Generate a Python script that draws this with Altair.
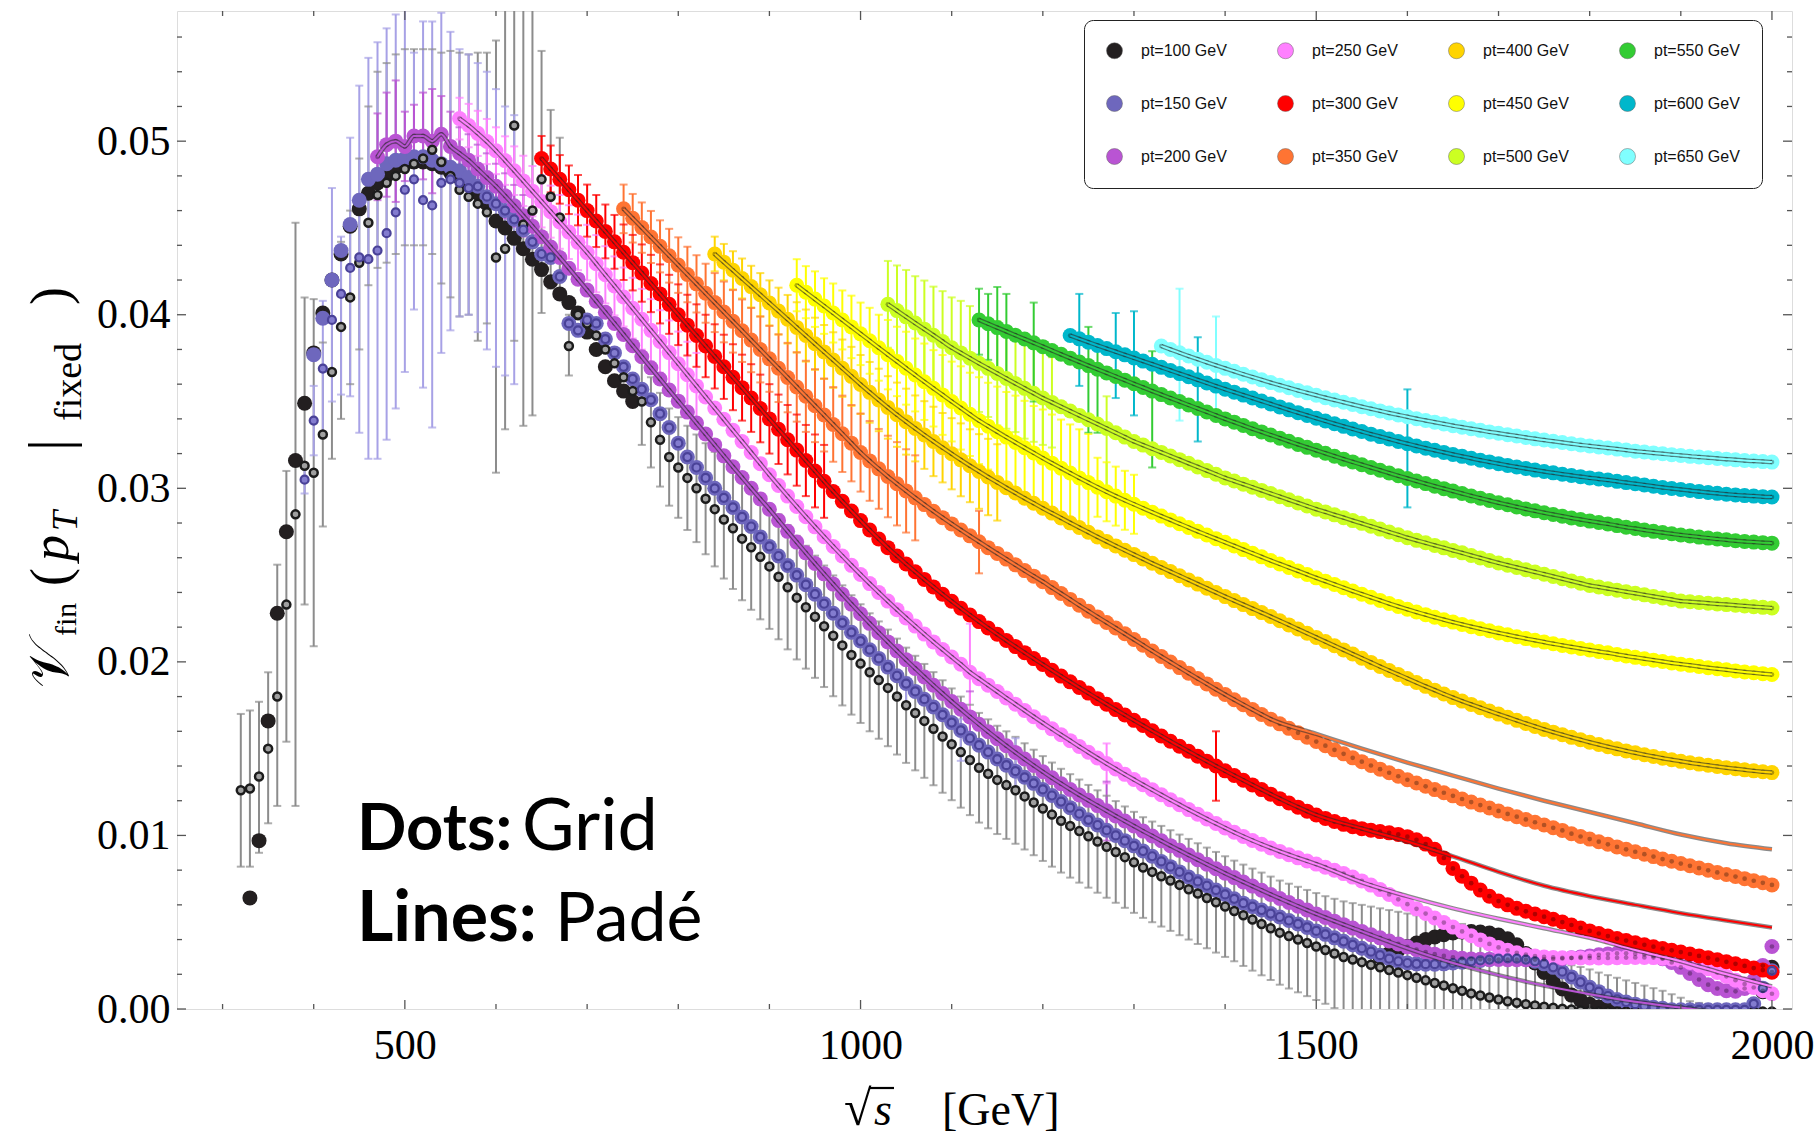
import altair as alt
import pandas as pd

# ---------------------------------------------------------------------------
# Layout of the plot frame (pixels) and axis ranges
# ---------------------------------------------------------------------------
W, H = 1615, 998
X_DOMAIN = [250, 2022]
Y_DOMAIN = [0, 0.0575]
U = 1e-5  # every tabulated value below is given in units of 1e-5

LABELS = ["pt=100 GeV", "pt=150 GeV", "pt=200 GeV", "pt=250 GeV", "pt=300 GeV", "pt=350 GeV",
          "pt=400 GeV", "pt=450 GeV", "pt=500 GeV", "pt=550 GeV", "pt=600 GeV", "pt=650 GeV"]
COLORS = ["#231f20", "#6e67bd", "#b954d3", "#ff80ff", "#ff0000", "#ff7433",
          "#ffd400", "#ffff00", "#ccff22", "#33cc33", "#00b7cb", "#80ffff"]
BAR_COLORS = ["#8c8c8c", "#a7a1e6"] + COLORS[2:]

# ---------------------------------------------------------------------------
# Grid points: (first sqrt(s) in GeV, values every 10 GeV)
# ---------------------------------------------------------------------------
PT100_BIG_EARLY = [640, 970, 1660, 2280, 2750, 3160, 3490, 3780, 4010, 4200,
                   4350, 4510, 4610, 4700, 4760, 4800, 4850, 4870, 4880, 4880,
                   4870, 4850, 4820, 4790, 4750, 4700, 4640, 4540, 4500, 4440,
                   4380, 4320, 4260, 4190, 4120, 4070, 4010, 3900, 3800, 3700,
                   3620, 3560, 3500]
PT100_BIG_TAIL = [300, 320, 340, 360, 380, 400, 415, 428, 438, 444,
                  446, 444, 438, 426, 405, 370, 320, 265, 210, 160,
                  115, 80, 50, 28, 12, 0, -10, -10, -10, -10,
                  -10, -10, -10, -10, -10, -10, -10, -10, -10, -10,
                  -10, -10, 100, 240]
PT100_RING_EARLY = [1260, 1270, 1340, 1500, 1800, 2330, 2850, 3130, 3090, 3310,
                    3670, 3930, 4100, 4300, 4530, 4690, 4760, 4800, 4840, 4870,
                    4900, 4950, 4880, 4800, 4720, 4680, 4640, 4590, 4330, 4380,
                    5090, 4520, 4600, 4780, 4680, 4560, 3820, 4000, 3950, 3880,
                    3800, 3720, 3640, 3560]
PT100_RING_MAIN = [3500, 3380, 3280, 3180, 3120, 3060, 3000, 2940, 2880, 2820,
                   2770, 2710, 2660, 2605, 2550, 2490, 2430, 2370, 2315, 2260,
                   2205, 2150, 2095, 2040, 1990, 1940, 1895, 1850, 1800, 1750,
                   1705, 1660, 1615, 1570, 1525, 1480, 1435, 1390, 1355, 1320,
                   1290, 1260, 1225, 1190, 1155, 1120, 1085, 1055, 1025, 995,
                   965, 935, 905, 875, 845, 815, 790, 765, 740, 715,
                   690, 665, 640, 615, 590, 565, 540, 515, 490, 465,
                   440, 420, 400, 380, 360, 340, 320, 300, 285, 270,
                   255, 240, 225, 210, 195, 180, 165, 150, 135, 120,
                   105, 90, 78, 66, 55, 45, 36, 28, 20, 13,
                   7, 2, -3, -8, -12, -15, -15, -15, -15, -15,
                   -15, -15, -15, -15, -15, -15, -15, -15, -15, -15,
                   -15, -15, -15, -15, -15]
PT150_BIG = [3770, 3980, 4200, 4370, 4520, 4660, 4780, 4810, 4870, 4890,
             4900, 4910, 4910, 4890, 4870, 4850, 4830, 4790, 4740, 4680,
             4640, 4600, 4550, 4490, 4420, 4350, 4330, 4220, 3950, 3910, 3970,
             3950, 3860, 3780, 3700, 3630, 3570, 3510, 3430, 3350, 3260,
             3180, 3120, 3060, 3000, 2945, 2890, 2835, 2780, 2720, 2665,
             2610, 2555, 2500, 2445, 2390, 2335, 2280, 2225, 2170, 2120,
             2070, 2020, 1970, 1920, 1875, 1830, 1785, 1740, 1695, 1650,
             1605, 1560, 1520, 1480, 1440, 1405, 1370, 1335, 1300, 1265,
             1230, 1195, 1160, 1125, 1090, 1060, 1030, 1000, 970, 940,
             910, 880, 850, 820, 790, 760, 735, 710, 685, 660,
             635, 610, 590, 570, 550, 530, 510, 490, 470, 450,
             430, 410, 390, 370, 350,
             330, 310, 290, 275, 265, 260, 258, 258, 260, 265,
             270, 275, 280, 285, 290, 292, 290, 285, 275, 260,
             240, 215, 185, 155, 125, 100, 75, 55, 40, 28,
             18, 10, 4, -5, -5, -5, -5, -5, -5, -5,
             -5, -5, 30, 120, 220]
PT150_RING_EARLY = [3050, 3390, 3690, 3970, 4120, 4270, 4330, 4320, 4370, 4470,
                    4590, 4720, 4780, 4660, 4630, 4760, 4780, 4760, 4730]
PT200 = [4910, 4980, 5000, 4970, 5030, 5030, 5000, 5040, 4970,
         4930, 4890, 4840, 4790, 4740, 4685, 4628, 4570, 4510, 4450,
         4390, 4330, 4268, 4205, 4142, 4078, 4014, 3950, 3886, 3822,
         3758, 3694, 3630, 3566, 3502,
         3439, 3376, 3313, 3250, 3187, 3124, 3062, 3000, 2939, 2879,
         2815, 2752, 2690, 2628, 2567,
         2507, 2448, 2390, 2333, 2277, 2222, 2168, 2115, 2063, 2012,
         1962, 1913, 1865, 1818, 1772, 1727, 1683, 1640, 1598, 1557,
         1517, 1478, 1440, 1403, 1367, 1332, 1298, 1265, 1233, 1202,
         1172, 1142, 1112, 1083, 1054, 1025, 997, 969, 941, 914,
         887, 860, 834, 808, 782, 757, 732, 708, 684, 660,
         637, 614, 592, 570, 548, 527, 506, 486, 466, 447,
         428, 410, 392, 375, 358, 342, 328, 316, 306, 298,
         292, 288, 286, 285, 285,
         284, 284, 284, 285, 286, 288, 291, 295, 300, 306,
         312, 317, 320, 321, 319, 314, 305, 290, 268, 240,
         205, 170, 140, 118, 105, 102, 118, 165, 250, 360]
PT250 = [5130, 5090, 5045, 4998, 4945, 4888, 4830, 4771, 4712, 4653,
         4594, 4535, 4476, 4417, 4358,
         4294, 4230, 4166, 4102, 4038, 3974, 3910, 3846, 3782, 3718,
         3654, 3590, 3526, 3462, 3398, 3334, 3270, 3206, 3142, 3078,
         3016, 2955, 2895, 2836, 2778, 2721, 2665, 2610, 2556, 2503,
         2451, 2400, 2350, 2301, 2253, 2206, 2160, 2115, 2071, 2028, 1986,
         1940, 1903, 1866, 1829, 1792, 1756, 1720, 1684, 1649, 1614,
         1580, 1546, 1512, 1479, 1446, 1414, 1383, 1352, 1322, 1292,
         1263, 1234, 1205, 1177, 1149, 1122, 1095, 1069, 1043, 1018,
         994, 971, 949, 928, 908, 889, 871, 853, 835,
         817, 799, 780, 760, 738, 714, 688, 660, 632, 604,
         577, 550, 524, 498, 472, 447, 422, 398, 375, 355,
         338, 324, 313, 305, 300, 297, 295, 294, 294, 294,
         294, 294, 295, 296, 297, 297, 296, 293, 288, 280,
         268, 252, 232, 210, 188, 166, 144, 124, 105, 88]
PT300 = [4900, 4840, 4780, 4720, 4660, 4600, 4540, 4480, 4420, 4360,
         4300, 4240, 4180, 4120, 4060, 4000, 3940, 3880, 3820, 3760,
         3700, 3640, 3580, 3520, 3460, 3400, 3340, 3280, 3220, 3160,
         3100, 3040, 2982, 2925, 2869, 2814,
         2760, 2708, 2658, 2610, 2564, 2519, 2475, 2432, 2390, 2349,
         2309, 2270, 2232, 2195, 2159, 2123, 2088, 2053, 2019, 1985,
         1951, 1918, 1885, 1852, 1820, 1788, 1756, 1725, 1694, 1663,
         1633, 1603, 1573, 1543, 1514, 1485, 1456, 1428, 1400, 1372,
         1345, 1318, 1291, 1264, 1238, 1212, 1187, 1163, 1140, 1118,
         1098, 1080, 1064, 1050, 1039, 1030, 1022, 1015, 1006, 993,
         975, 950, 920, 870, 810, 765, 725, 685, 650, 622,
         600, 580, 563, 547, 532, 517, 501, 484, 467, 450,
         435, 420, 406, 394, 382, 370, 359, 348, 338, 328,
         317, 306, 295, 284, 272, 260, 248, 236, 224, 212]
PT350 = [4610, 4556, 4502, 4448, 4394, 4340, 4286, 4232, 4178, 4124,
         4070, 4016, 3962, 3908, 3854, 3800, 3746, 3692, 3638, 3584,
         3530, 3476, 3422, 3368, 3314, 3260, 3206,
         3158, 3112, 3068, 3026, 2985, 2945, 2906, 2868, 2831, 2795,
         2760, 2726, 2692, 2658, 2625, 2592, 2559, 2526, 2494, 2462,
         2428, 2394, 2360, 2326, 2292, 2259, 2227,
         2195, 2162, 2129, 2096, 2063, 2031, 1999, 1967, 1935, 1904,
         1873, 1842, 1812, 1782, 1753, 1725, 1697, 1670, 1643, 1617,
         1591, 1566, 1541, 1517, 1493, 1470, 1447, 1425, 1403, 1382,
         1361, 1341, 1321, 1302, 1283, 1264, 1246, 1228, 1210, 1192,
         1175, 1158, 1141, 1124, 1108, 1092, 1076, 1060, 1044, 1029,
         1010, 994, 979, 964, 949, 934, 920, 906, 892, 878,
         864, 851, 838, 825, 812, 799, 787, 775, 763, 751,
         739, 727, 715]
PT400 = [4350, 4303, 4256, 4209, 4162, 4115, 4068, 4021, 3974, 3927,
         3880, 3833, 3786, 3739, 3692, 3645, 3598, 3553, 3509, 3466,
         3424, 3384, 3345, 3307, 3270, 3234, 3199, 3164, 3130, 3097,
         3065, 3034, 3003, 2973, 2943, 2914, 2885, 2857, 2829, 2801,
         2774, 2747, 2720, 2694, 2668, 2643, 2618, 2593, 2568, 2544,
         2520, 2496, 2472, 2448, 2424, 2400, 2376, 2353, 2330, 2307,
         2284, 2261, 2237, 2213, 2189, 2165, 2141, 2117, 2093, 2069,
         2045, 2021, 1997, 1973, 1950, 1927, 1904, 1881, 1859, 1837,
         1815, 1794, 1774, 1755, 1736, 1717, 1699, 1681, 1663, 1645,
         1628, 1611, 1595, 1580, 1565, 1551, 1537, 1524, 1511, 1499,
         1487, 1476, 1465, 1455, 1445, 1436, 1427, 1419, 1411, 1404,
         1397, 1390, 1384, 1378, 1372, 1367, 1362]
PT450 = [4170, 4130, 4090, 4050, 4010, 3970, 3930, 3890, 3850, 3810,
         3770, 3731, 3692, 3653, 3614, 3576, 3538, 3500, 3463, 3426,
         3390, 3358, 3326, 3295, 3264, 3234, 3204, 3174, 3145, 3116,
         3088, 3060, 3033, 3006, 2980, 2955, 2931, 2908, 2885, 2862,
         2840, 2818, 2796, 2774, 2752, 2731, 2710, 2689, 2668, 2647,
         2626, 2605, 2584, 2564, 2544, 2524, 2504, 2484, 2465, 2446,
         2427, 2408, 2390, 2372, 2354, 2336, 2319, 2303, 2287, 2272,
         2257, 2243, 2229, 2216, 2203, 2191, 2179, 2167, 2156, 2145,
         2134, 2124, 2114, 2104, 2095, 2086, 2077, 2068, 2060, 2052,
         2043, 2034, 2026, 2018, 2010, 2002, 1994, 1987, 1980, 1973,
         1966, 1960, 1954, 1948, 1942, 1937, 1932, 1927]
PT500 = [4060, 4024, 3988, 3952, 3917, 3882, 3846, 3810, 3780, 3750,
         3720, 3691, 3662, 3633, 3604, 3576, 3548, 3520, 3495, 3470,
         3445, 3420, 3395, 3370, 3345, 3320, 3295, 3270, 3249, 3228,
         3207, 3186, 3165, 3144, 3123, 3102, 3081, 3060, 3042, 3024,
         3006, 2988, 2970, 2952, 2934, 2916, 2898, 2880, 2864, 2847,
         2831, 2814, 2798, 2781, 2765, 2748, 2732, 2715, 2700, 2686,
         2671, 2657, 2642, 2628, 2613, 2599, 2584, 2570, 2557, 2544,
         2531, 2518, 2505, 2492, 2479, 2466, 2453, 2440, 2431, 2422,
         2413, 2404, 2395, 2386, 2377, 2368, 2359, 2350, 2346, 2342,
         2338, 2334, 2330, 2326, 2322, 2318, 2314, 2310]
PT550 = [3970, 3948, 3926, 3904, 3882, 3860, 3838, 3816, 3794, 3772,
         3750, 3728, 3707, 3686, 3665, 3644, 3623, 3602, 3581, 3560,
         3540, 3520, 3500, 3480, 3460, 3440, 3420, 3400, 3381, 3362,
         3343, 3325, 3307, 3289, 3271, 3253, 3236, 3219, 3202, 3185,
         3168, 3152, 3136, 3120, 3104, 3088, 3072, 3057, 3042, 3027,
         3012, 2998, 2984, 2970, 2956, 2943, 2930, 2917, 2905, 2893,
         2881, 2870, 2859, 2849, 2839, 2829, 2820, 2811, 2803, 2795,
         2785, 2776, 2768, 2760, 2752, 2745, 2738, 2731, 2725, 2719,
         2713, 2708, 2703, 2698, 2694, 2690, 2687, 2684]
PT600 = [3880, 3861, 3842, 3823, 3805, 3787, 3769, 3751, 3733, 3715,
         3697, 3679, 3661, 3643, 3625, 3607, 3589, 3571, 3554, 3537,
         3520, 3503, 3486, 3469, 3452, 3436, 3420, 3404, 3388, 3372,
         3357, 3342, 3327, 3312, 3298, 3284, 3270, 3257, 3244, 3231,
         3219, 3207, 3195, 3184, 3173, 3162, 3152, 3142, 3132, 3123,
         3114, 3105, 3097, 3089, 3081, 3074, 3067, 3060, 3054, 3048,
         3040, 3033, 3026, 3019, 3012, 3005, 2999, 2993, 2987, 2981,
         2976, 2971, 2966, 2962, 2958, 2955, 2952, 2950]
PT650 = [3820, 3800, 3781, 3762, 3744, 3726, 3708, 3691, 3674, 3657,
         3641, 3625, 3609, 3594, 3579, 3564, 3550, 3536, 3522, 3509,
         3496, 3483, 3470, 3458, 3446, 3434, 3423, 3412, 3401, 3391,
         3381, 3371, 3361, 3352, 3343, 3334, 3325, 3317, 3309, 3301,
         3293, 3285, 3278, 3271, 3264, 3257, 3250, 3244, 3238, 3232,
         3226, 3220, 3214, 3209, 3204, 3199, 3194, 3189, 3184, 3180,
         3176, 3172, 3168, 3164, 3160, 3157, 3154, 3151]

GRID = {
    "pt=100 GeV": [(330, PT100_BIG_EARLY), (1570, PT100_BIG_TAIL)],
    "pt=150 GeV": [(400, PT150_BIG)],
    "pt=200 GeV": [(470, PT200)],
    "pt=250 GeV": [(560, PT250)],
    "pt=300 GeV": [(650, PT300)],
    "pt=350 GeV": [(740, PT350)],
    "pt=400 GeV": [(840, PT400)],
    "pt=450 GeV": [(930, PT450)],
    "pt=500 GeV": [(1030, PT500)],
    "pt=550 GeV": [(1130, PT550)],
    "pt=600 GeV": [(1230, PT600)],
    "pt=650 GeV": [(1330, PT650)],
}

# Padé curves where they leave the grid points: (first sqrt(s), values every 50 GeV)
PADE_TAIL = {
    "pt=200 GeV": (1500, [548, 447, 350, 265, 195, 135, 85, 42, 8, -25, -55]),
    "pt=250 GeV": (1500, [835, 730, 650, 580, 520, 465, 410, 340, 275, 200, 130]),
    "pt=300 GeV": (1500, [1118, 1040, 965, 880, 790, 710, 650, 600, 552, 510, 470]),
    "pt=350 GeV": (1450, [1670, 1585, 1500, 1420, 1345, 1270, 1200, 1135, 1070, 1005, 955, 920]),
}

# Error bars given as half widths on consecutive grid points: (first sqrt(s), half widths)
PT100_MAIN_HW = [250, 260, 270, 280, 290, 300, 310, 320, 330, 340, 350, 355, 360, 360, 360,
                 360, 358, 356, 354, 352, 350, 348, 346, 344, 342, 340, 338, 336, 334, 332,
                 330, 328, 326, 324, 322, 320, 318, 316, 314, 312, 310, 308, 306, 304, 302,
                 300, 299, 298, 297, 296, 295, 294, 293, 292, 291, 290, 290, 290, 290, 290,
                 290, 290, 290, 290, 290,
                 290, 292, 294, 296, 298, 300, 302, 304, 306, 308,
                 310, 315, 320, 325, 330, 335, 340, 345, 350, 355,
                 360, 365, 370, 375, 380, 385, 390, 395, 400, 400,
                 380, 350, 320, 300, 280, 270, 260, 255, 250, 240,
                 225, 210, 195, 180, 165, 150, 135, 120, 100, 80,
                 60, 50, 40, 30, 25, 20, 15, 10, 10, 10]
BAR_HW = {
    "pt=200 GeV": (470, [250, 300, 350, 200, 180, 250, 300, 220, 200, 150, 150, 140, 140, 130,
                         130, 120, 120, 110]),
    "pt=250 GeV": (560, [120, 125, 130, 130, 135, 140, 140, 145, 145, 150, 150, 155, 155, 160,
                         160, 165, 165, 170, 170, 175, 175, 180, 180, 185, 185, 190, 190]),
    "pt=300 GeV": (650, [130, 135, 140, 140, 145, 150, 150, 155, 155, 160, 160, 165, 165, 170,
                         170, 175, 175, 180, 180, 185, 185, 190, 190, 195, 195, 200, 200, 200,
                         205, 205, 210, 210]),
    "pt=350 GeV": (740, [140, 140, 145, 150, 150, 155, 160, 160, 165, 170, 170, 175, 180, 180,
                         185, 190, 190, 195, 200, 200, 205, 210, 210, 215, 220, 220, 225, 230,
                         230, 235, 240, 240, 245]),
    "pt=400 GeV": (840, [100, 105, 110, 115, 120, 125, 130, 135, 140, 145, 150, 150, 155, 160,
                         165, 170, 170, 175, 180, 180, 185, 190, 190, 195, 200, 200, 205, 210,
                         210, 215, 220, 220]),
    "pt=450 GeV": (930, [150, 150, 160, 160, 170, 170, 180, 180, 190, 190, 200, 200, 210, 210,
                         220, 220, 230, 230, 240, 240, 250, 250, 260, 260, 270, 270, 270, 280,
                         280, 280, 280, 280, 280, 170, 170, 170, 170, 170]),
    "pt=500 GeV": (1030, [250, 260, 270, 270, 280, 280, 290, 290, 300, 300, 280, 280, 300, 290,
                          280, 290, 280, 270, 260]),
}
# Error bars given directly as (sqrt(s), low, high)
BAR_RANGE = {
    "pt=100 GeV": [(320, 820, 1700), (330, 820, 1720), (340, 900, 1770), (350, 1070, 1940),
                   (360, 1170, 2560), (370, 1540, 3100), (380, 1170, 4530), (390, 2330, 4100),
                   (400, 2090, 4090), (410, 2780, 3840), (420, 3170, 4170), (430, 3400, 4420),
                   (440, 3600, 4600), (450, 3800, 4900), (460, 4170, 5200), (470, 4270, 5400),
                   (480, 4300, 5450), (490, 4350, 5500), (500, 4400, 5530), (510, 4400, 5530),
                   (520, 4400, 5530), (530, 4350, 5530), (540, 4180, 5510), (550, 4100, 5520),
                   (560, 3990, 5510), (570, 4000, 5500), (580, 3850, 5510), (590, 3950, 5510),
                   (600, 3090, 5580), (610, 3340, 5800), (620, 3850, 5800), (630, 3360, 5800),
                   (640, 3420, 5800), (650, 4010, 5520), (660, 4150, 5180), (670, 4140, 5020),
                   (680, 3650, 4000)],
    "pt=150 GeV": [(390, 2970, 3130), (400, 3190, 3590), (410, 3310, 4080), (420, 3500, 4730),
                   (430, 3540, 4450), (440, 3530, 5020), (450, 3320, 5320), (460, 3170, 5480),
                   (470, 3170, 5570), (480, 3280, 5650), (490, 3460, 5730), (500, 3670, 5800),
                   (510, 4030, 5510), (520, 3580, 5690), (530, 3350, 5690), (540, 3780, 5740),
                   (550, 3910, 5630), (560, 3990, 5530), (570, 4000, 5500), (580, 3900, 5450),
                   (590, 3800, 5400), (600, 3700, 5300), (610, 3650, 5200), (620, 3600, 5150),
                   (1050, 1750, 1910), (1110, 1430, 1670), (1170, 1280, 1560)],
    "pt=200 GeV": [(1120, 1530, 1830), (1270, 970, 1310)],
    "pt=250 GeV": [(1120, 1660, 2220), (1270, 1300, 1530)],
    "pt=300 GeV": [(1390, 1200, 1600)],
    "pt=350 GeV": [(1130, 2510, 2870)],
    "pt=500 GeV": [(1270, 2990, 3530)],
    "pt=550 GeV": [(1130, 3770, 4150), (1140, 3740, 4120), (1150, 3630, 4160), (1160, 3620, 4120),
                   (1190, 3500, 4070), (1250, 3320, 3930), (1260, 3320, 3810), (1320, 3120, 3790)],
    "pt=600 GeV": [(1240, 3590, 4120), (1280, 3520, 4010), (1300, 3420, 4020), (1370, 3270, 3870),
                   (1600, 2890, 3570)],
    "pt=650 GeV": [(1350, 3390, 4150), (1390, 3400, 3990)],
}

# Axis ticks
X_LABEL_TICKS = [500, 1000, 1500, 2000]
X_MINOR_TICKS = [300, 400, 600, 700, 800, 900, 1100, 1200, 1300, 1400, 1600, 1700, 1800, 1900]
Y_LABEL_TICKS = [0.0, 0.01, 0.02, 0.03, 0.04, 0.05]
Y_MINOR_TICKS = [0.002, 0.004, 0.006, 0.008, 0.012, 0.014, 0.016, 0.018, 0.022, 0.024, 0.026,
                 0.028, 0.032, 0.034, 0.036, 0.038, 0.042, 0.044, 0.046, 0.048, 0.052, 0.054,
                 0.056]

SERIF = "Liberation Serif"
SANS = "Liberation Sans"


def expand(segments):
    pts = []
    for start, vals in segments:
        pts += [(start + 10 * i, v * U) for i, v in enumerate(vals)]
    return pts


# ---------------------------------------------------------------------------
# Tables
# ---------------------------------------------------------------------------
grid_pts = {lab: expand(GRID[lab]) for lab in LABELS}
ring100 = expand([(320, PT100_RING_EARLY), (760, PT100_RING_MAIN)])
ring150 = expand([(390, PT150_RING_EARLY)]) + [p for p in grid_pts["pt=150 GeV"] if p[0] >= 580]

dots = pd.DataFrame([{"series": lab, "k": k, "x": x, "y": y}
                     for k, lab in enumerate(LABELS) for x, y in grid_pts[lab]])
centers = dots[dots["k"] >= 2]
rings100_df = pd.DataFrame(ring100, columns=["x", "y"])
rings150_df = pd.DataFrame(ring150, columns=["x", "y"])

bar_rows = []
lookup100 = dict(ring100)
for i, hw in enumerate(PT100_MAIN_HW):
    x = 760 + 10 * i
    yc = lookup100[x]
    bar_rows.append({"k": 0, "x": x, "lo": yc - hw * U, "hi": yc + hw * U})
for k, lab in enumerate(LABELS):
    if lab in BAR_HW:
        start, hws = BAR_HW[lab]
        lk = dict(grid_pts[lab])
        for i, hw in enumerate(hws):
            x = start + 10 * i
            bar_rows.append({"k": k, "x": x, "lo": lk[x] - hw * U, "hi": lk[x] + hw * U})
    for x, lo, hi in BAR_RANGE.get(lab, []):
        bar_rows.append({"k": k, "x": x, "lo": lo * U, "hi": hi * U})
bars = pd.DataFrame(bar_rows).sort_values("k", kind="stable")

line_rows = []
for k, lab in enumerate(LABELS):
    if k < 2:
        continue
    pts = grid_pts[lab]
    if lab in PADE_TAIL:
        start, vals = PADE_TAIL[lab]
        pts = [p for p in pts if p[0] < start] + [(start + 50 * i, v * U) for i, v in enumerate(vals)]
    line_rows += [{"k": k, "x": x, "y": y} for x, y in pts]
lines = pd.DataFrame(line_rows)

# ---------------------------------------------------------------------------
# Chart
# ---------------------------------------------------------------------------
xs = alt.Scale(domain=X_DOMAIN, nice=False, zero=False)
ys = alt.Scale(domain=Y_DOMAIN, nice=False, zero=False)
X_AXIS = alt.Axis(values=X_LABEL_TICKS, format="d", ticks=False, domain=False, grid=False,
                  labelFont=SERIF, labelFontSize=42, labelColor="black", labelPadding=16,
                  title=None)
Y_AXIS = alt.Axis(values=Y_LABEL_TICKS, format=".2f", ticks=False, domain=False, grid=False,
                  labelFont=SERIF, labelFontSize=42, labelColor="black", labelPadding=7,
                  title=None)


def xq(field):
    return alt.X(f"{field}:Q", scale=xs, axis=X_AXIS)


def yq(field):
    return alt.Y(f"{field}:Q", scale=ys, axis=Y_AXIS)


# bars and curves are coloured by series index, the dots (and legend) by series name
stroke_scale = alt.Scale(domain=list(range(len(LABELS))), range=BAR_COLORS)
color_scale = alt.Scale(domain=LABELS, range=COLORS)

bar_rules = alt.Chart(bars).mark_rule(strokeWidth=2, clip=True).encode(
    x=xq("x"), y=yq("lo"), y2="hi:Q",
    stroke=alt.Stroke("k:O", scale=stroke_scale, legend=None))
bar_lo = alt.Chart(bars).mark_tick(orient="horizontal", size=8, thickness=2, clip=True).encode(
    x=xq("x"), y=yq("lo"), fill=alt.Fill("k:O", scale=stroke_scale, legend=None))
bar_hi = alt.Chart(bars).mark_tick(orient="horizontal", size=8, thickness=2, clip=True).encode(
    x=xq("x"), y=yq("hi"), fill=alt.Fill("k:O", scale=stroke_scale, legend=None))

# legend: 12 entries in 4 columns, filled column by column
dot_layer = alt.Chart(dots).mark_circle(size=225, opacity=1, clip=True).encode(
    x=xq("x"), y=yq("y"),
    color=alt.Color("series:N", scale=color_scale, legend=alt.Legend(
        title=None, orient="none", legendX=907, legendY=9, columns=4, symbolType="circle",
        symbolSize=256, symbolStrokeColor="#666", symbolStrokeWidth=0.5, symbolOpacity=1,
        labelFont=SANS, labelFontSize=16, labelColor="#111", labelOffset=18, labelLimit=300,
        rowPadding=34, columnPadding=49, padding=22, strokeColor="#222", fillColor="white",
        cornerRadius=9)))
ring100_layer = alt.Chart(rings100_df).mark_point(
    shape="circle", filled=True, size=64, fill="#a0a0a0", stroke="#1c1c1c", strokeWidth=2.5,
    opacity=1, clip=True).encode(x=xq("x"), y=yq("y"))
ring150_layer = alt.Chart(rings150_df).mark_point(
    shape="circle", filled=True, size=64, fill="#837ccf", stroke="#4a4298", strokeWidth=2.2,
    opacity=1, clip=True).encode(x=xq("x"), y=yq("y"))
center_layer = alt.Chart(centers).mark_circle(size=22, color="black", opacity=0.3, clip=True).encode(
    x=xq("x"), y=yq("y"))

line_outer = alt.Chart(lines).mark_line(strokeWidth=4.5, color="#2a2a2a", opacity=0.55,
                                        interpolate="monotone", clip=True).encode(
    x=xq("x"), y=yq("y"), detail="k:O")
line_inner = alt.Chart(lines).mark_line(strokeWidth=2, interpolate="monotone", clip=True).encode(
    x=xq("x"), y=yq("y"), stroke=alt.Stroke("k:O", scale=stroke_scale, legend=None))


def tick_rules(values, axis, length):
    df = pd.DataFrame({"v": values})
    base = alt.Chart(df).mark_rule(color="#555", strokeWidth=1.3)
    if axis == "x":
        return (base.encode(x=xq("v"), y=alt.value(H), y2=alt.value(H - length)) +
                base.encode(x=xq("v"), y=alt.value(0), y2=alt.value(length)))
    return (base.encode(y=yq("v"), x=alt.value(0), x2=alt.value(length)) +
            base.encode(y=yq("v"), x=alt.value(W), x2=alt.value(W - length)))


def text_piece(text, x, y, size, angle=0, style="normal", weight="normal", font=SERIF):
    return alt.Chart(pd.DataFrame({"t": [text]})).mark_text(
        align="left", baseline="alphabetic", angle=angle, font=font, fontSize=size,
        fontStyle=style, fontWeight=weight, color="black").encode(
        x=alt.value(x), y=alt.value(y), text="t:N")


annotation = (text_piece("Dots:", 180, 839, 65, weight="bold", font="Lato") +
              text_piece("Grid", 345, 839, 72, font="Lato") +
              text_piece("Lines:", 180, 930, 70, weight="bold", font="Lato") +
              text_piece("Padé", 378, 930, 68, font="Lato"))

x_title = (text_piece("√", 667, 1114, 50) +
           text_piece("s", 697, 1114, 46, style="italic") +
           text_piece("[GeV]", 765, 1114, 46) +
           alt.Chart(pd.DataFrame({"a": [0]})).mark_rule(color="black", strokeWidth=2.2).encode(
               x=alt.value(693), x2=alt.value(717), y=alt.value(1077), y2=alt.value(1077)))

y_title = (text_piece("𝒱", -109, 677, 56, angle=270) +
           text_piece("fin", -101, 625, 30, angle=270) +
           text_piece("(", -109, 575, 54, angle=270) +
           text_piece("p", -109, 550, 52, angle=270, style="italic") +
           text_piece("T", -100, 520, 36, angle=270, style="italic") +
           text_piece("|", -108, 440, 60, angle=270) +
           text_piece("fixed", -96, 410, 38, angle=270) +
           text_piece(")", -109, 294, 54, angle=270))

chart = alt.layer(
    bar_rules, bar_lo, bar_hi, dot_layer, ring100_layer, ring150_layer, center_layer,
    line_outer, line_inner,
    tick_rules(X_MINOR_TICKS, "x", 5), tick_rules(X_LABEL_TICKS, "x", 9),
    tick_rules(Y_MINOR_TICKS, "y", 5), tick_rules(Y_LABEL_TICKS, "y", 9),
    annotation, x_title, y_title,
).properties(
    width=W, height=H,
    autosize=alt.AutoSizeParams(type="none"),
    padding={"left": 177, "top": 11, "right": 27, "bottom": 134},
).configure_view(stroke="#4d4d4d", strokeWidth=1.5).configure(background="white")

chart.save("out.html", embed_options={"renderer": "svg", "actions": False})
